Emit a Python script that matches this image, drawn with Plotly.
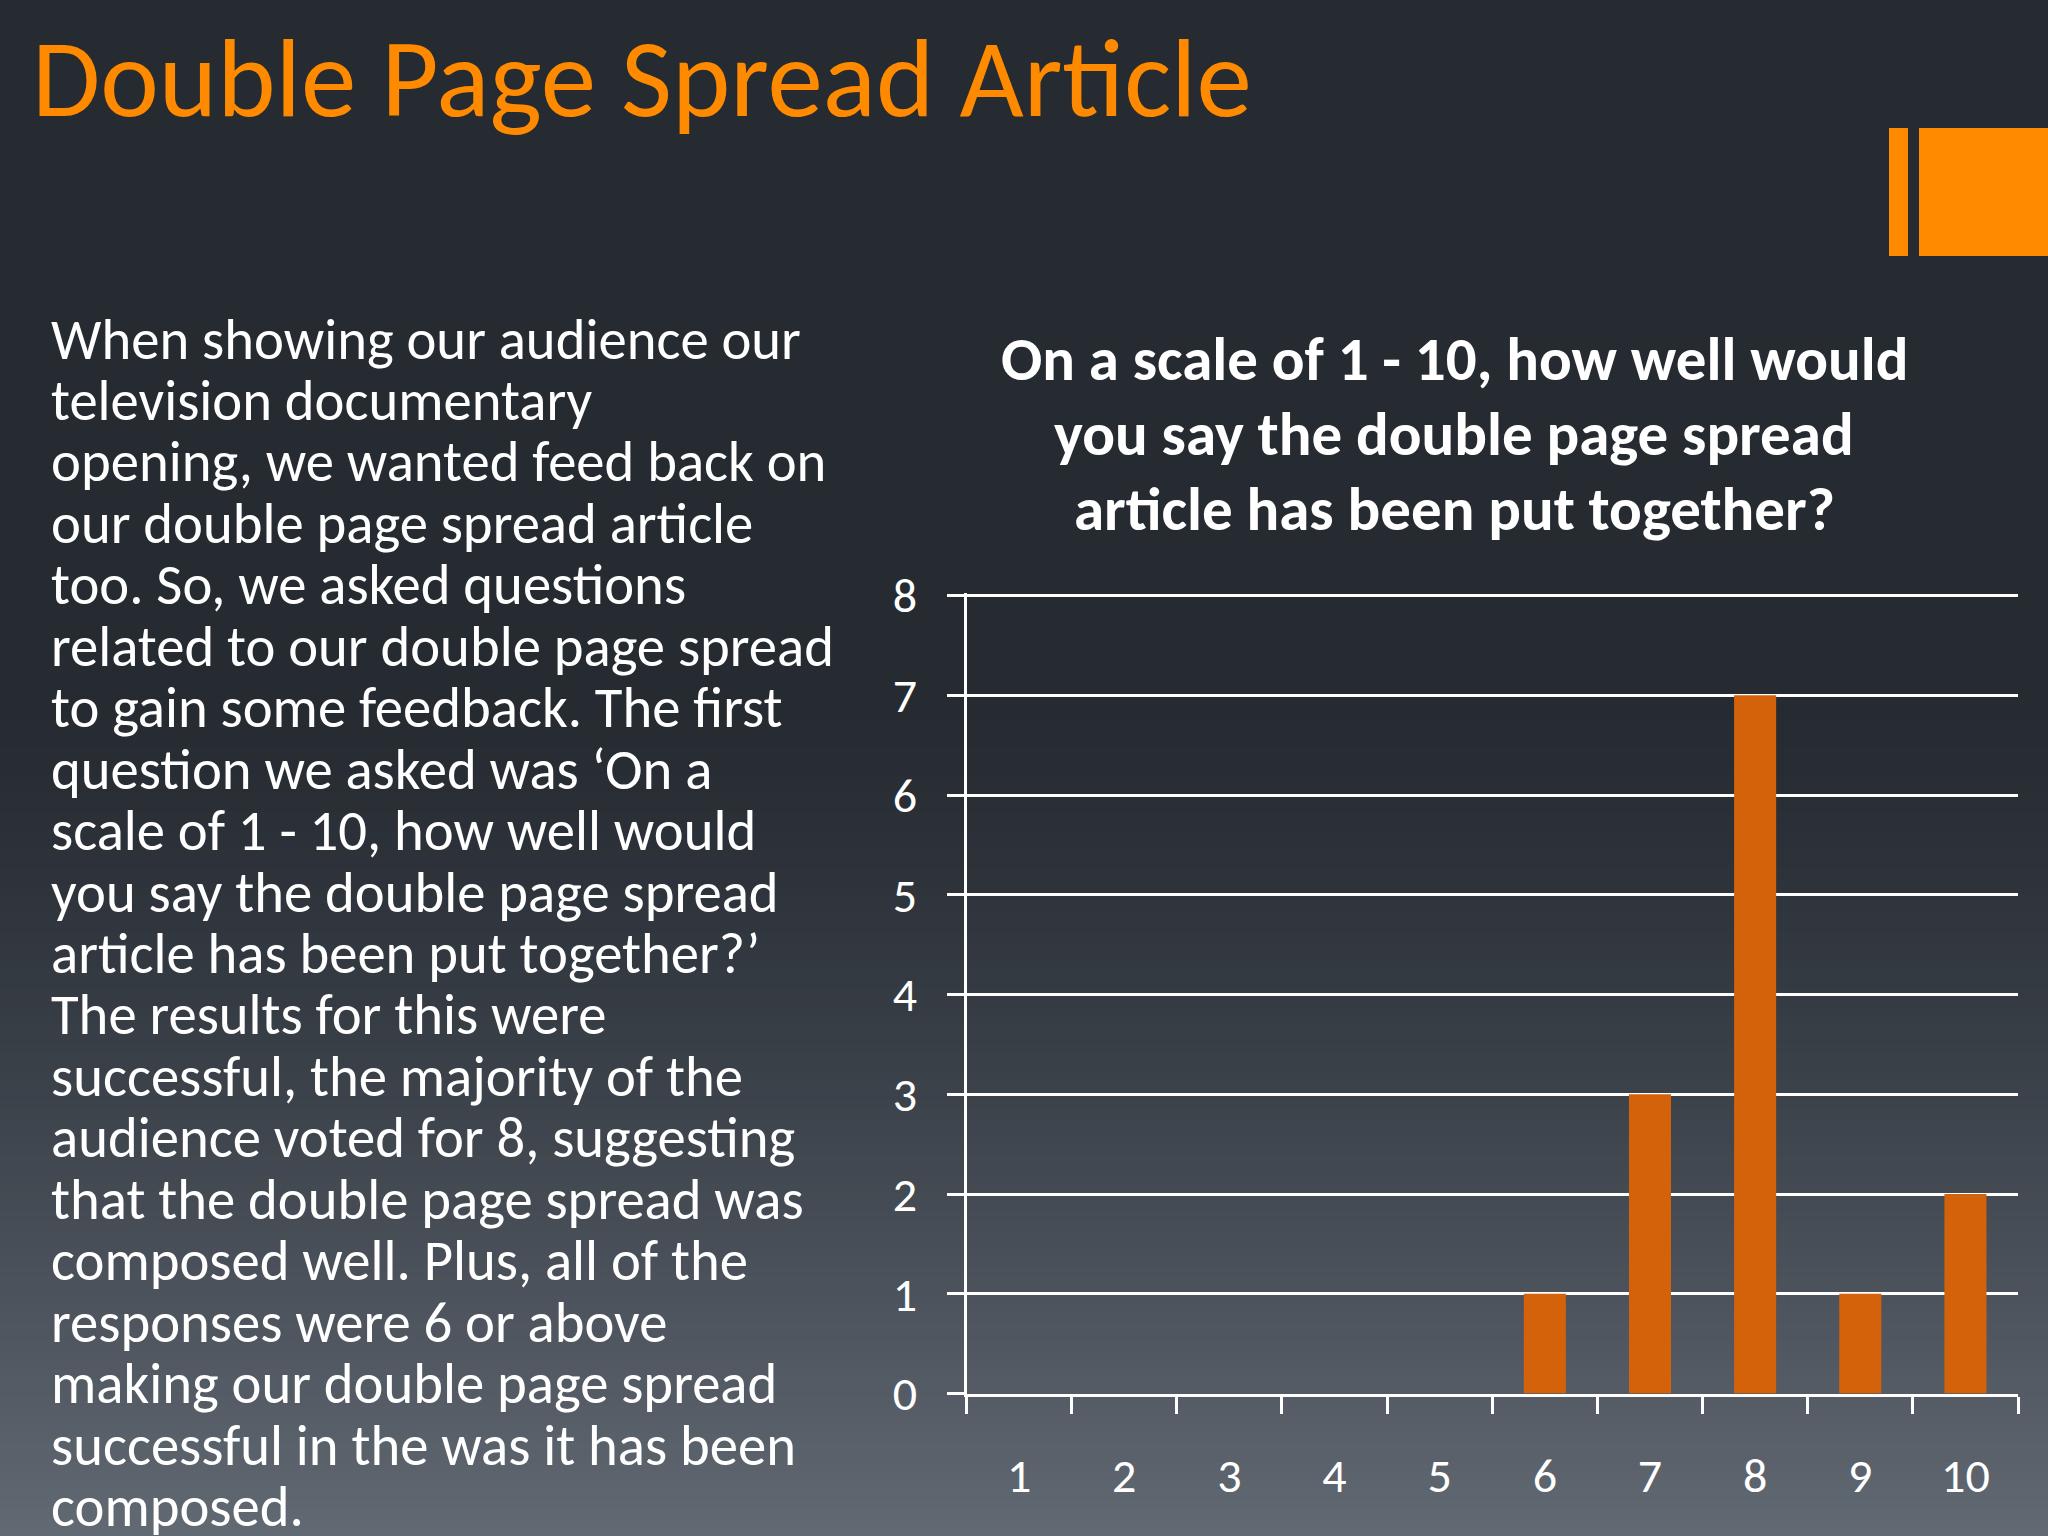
import plotly.graph_objects as go

W, H = 2048, 1536

# ---- data ----
scores = ["1", "2", "3", "4", "5", "6", "7", "8", "9", "10"]
votes = [0, 0, 0, 0, 0, 1, 3, 7, 1, 2]
y_ticks = [0, 1, 2, 3, 4, 5, 6, 7, 8]

page_title = "Double Page Spread Article"
chart_title_lines = [
    "On a scale of 1 - 10, how well would",
    "you say the double page spread",
    "article has been put together?",
]
body_lines = [
    "When showing our audience our",
    "television documentary",
    "opening, we wanted feed back on",
    "our double page spread article",
    "too. So, we asked questions",
    "related to our double page spread",
    "to gain some feedback. The first",
    "question we asked was \u2018On a",
    "scale of 1 - 10, how well would",
    "you say the double page spread",
    "article has been put together?\u2019",
    "The results for this were",
    "successful, the majority of the",
    "audience voted for 8, suggesting",
    "that the double page spread was",
    "composed well. Plus, all of the",
    "responses were 6 or above",
    "making our double page spread",
    "successful in the was it has been",
    "composed.",
]

FONT = "Carlito, Lato, sans-serif"
TOP = (38, 43, 50)
BOT = (97, 105, 115)


def px(x):
    return x / W


def py(y):
    return 1 - y / H


fig = go.Figure()
fig.add_trace(go.Bar(
    x=scores, y=votes,
    marker=dict(color="#D4620B", line=dict(width=0)),
    width=0.4,
    showlegend=False,
))

shapes = []
# background gradient strips
n = 90
y0 = 700
shapes.append(dict(type="rect", xref="paper", yref="paper", x0=0, x1=1, y0=py(y0 + 1), y1=1,
                   fillcolor="rgb(%d,%d,%d)" % TOP, line=dict(width=0), layer="below"))
step = (H - y0) / n
for i in range(n):
    ya = y0 + i * step
    yb = ya + step + 1
    t = ((i + 0.5) / n) ** 1.3
    c = tuple(round(TOP[k] + (BOT[k] - TOP[k]) * t) for k in range(3))
    shapes.append(dict(type="rect", xref="paper", yref="paper", x0=0, x1=1,
                       y0=py(min(yb, H)), y1=py(ya),
                       fillcolor="rgb(%d,%d,%d)" % c, line=dict(width=0), layer="below"))
# orange decoration
shapes.append(dict(type="rect", xref="paper", yref="paper", x0=px(1889), x1=px(1908),
                   y0=py(256), y1=py(128), fillcolor="#FF8A00", line=dict(width=0), layer="above"))
shapes.append(dict(type="rect", xref="paper", yref="paper", x0=px(1919), x1=1,
                   y0=py(256), y1=py(128), fillcolor="#FF8A00", line=dict(width=0), layer="above"))

annotations = []
annotations.append(dict(text=page_title, xref="paper", yref="paper", x=px(30), y=py(78),
                        xanchor="left", yanchor="middle", showarrow=False,
                        font=dict(family=FONT, size=111, color="#FF8A00")))
for i, line in enumerate(chart_title_lines):
    annotations.append(dict(text="<b>" + line + "</b>", xref="paper", yref="paper",
                            x=px(1454), y=py(359 + 75 * i),
                            xanchor="center", yanchor="middle", showarrow=False,
                            font=dict(family=FONT, size=61, color="white")))
for i, line in enumerate(body_lines):
    annotations.append(dict(text=line, xref="paper", yref="paper",
                            x=px(49), y=py(339 + 61.45 * i),
                            xanchor="left", yanchor="middle", showarrow=False,
                            font=dict(family=FONT, size=56.7, color="white")))

fig.update_layout(
    width=W, height=H,
    margin=dict(l=0, r=0, t=0, b=0, pad=0),
    paper_bgcolor="rgb(%d,%d,%d)" % TOP,
    plot_bgcolor="rgba(0,0,0,0)",
    shapes=shapes,
    annotations=annotations,
    xaxis=dict(
        domain=[px(966.5), px(2018)],
        type="category",
        automargin=False,
        showgrid=False,
        showline=True, linecolor="white", linewidth=3,
        ticks="outside", tickson="boundaries", ticklen=17, tickwidth=2.5, tickcolor="white",
        tickfont=dict(family=FONT, size=48, color="white"),
        ticklabelstandoff=38,
        zeroline=False,
        fixedrange=True,
    ),
    yaxis=dict(
        domain=[py(1393.6), py(592.6)],
        range=[0, 8.03],
        tickvals=y_ticks,
        automargin=False,
        showgrid=True, gridcolor="white", gridwidth=2.5,
        showline=True, linecolor="white", linewidth=2.5,
        ticks="outside", ticklen=17, tickwidth=2.5, tickcolor="white",
        tickfont=dict(family=FONT, size=48, color="white"),
        ticklabelstandoff=20,
        zeroline=False,
        fixedrange=True,
    ),
)

fig.write_html(
    "out.html",
    config={"displayModeBar": False},
    post_script="document.body.style.margin='0';document.body.style.background='rgb(38,43,50)';document.documentElement.style.overflow='hidden';",
)
